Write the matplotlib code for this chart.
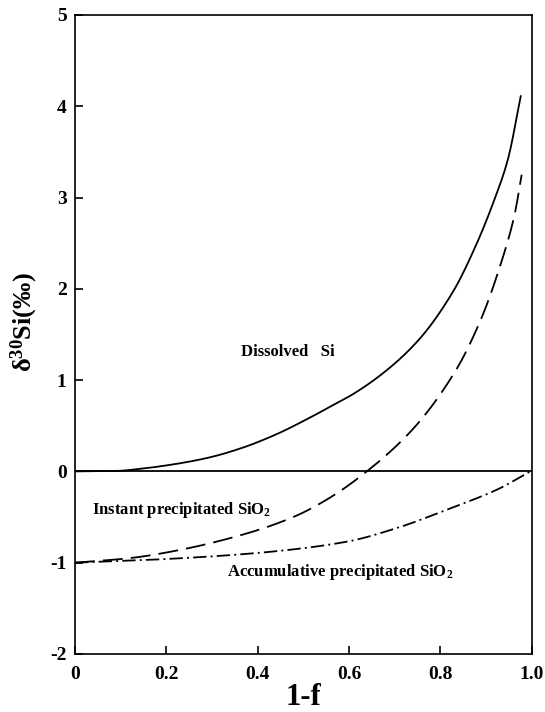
import numpy as np
import matplotlib
matplotlib.use('Agg')
import matplotlib.pyplot as plt

# Шрифт: жирный Times-подобный
plt.rcParams['font.family'] = ['Liberation Serif', 'DejaVu Serif']
plt.rcParams['font.weight'] = 'bold'
plt.rcParams['mathtext.fontset'] = 'custom'
plt.rcParams['mathtext.rm'] = 'Liberation Serif:bold'
plt.rcParams['mathtext.it'] = 'Liberation Serif:bold'
plt.rcParams['mathtext.bf'] = 'Liberation Serif:bold'
plt.rcParams['mathtext.default'] = 'rm'
plt.rcParams['axes.unicode_minus'] = False

# Данные
x_dissolved = [0.0, 0.09, 0.146, 0.219, 0.292, 0.365, 0.438, 0.511, 0.570, 0.610,
               0.683, 0.756, 0.829, 0.880, 0.920, 0.948, 0.976]
y_dissolved = [0.0, 0.005, 0.03, 0.08, 0.15, 0.256, 0.40, 0.58, 0.74, 0.85,
               1.11, 1.46, 1.98, 2.50, 3.00, 3.42, 4.11]

x_instant = [0.0, 0.120, 0.230, 0.376, 0.478, 0.551, 0.639, 0.741, 0.833, 0.890,
             0.934, 0.962, 0.978]
y_instant = [-1.0, -0.95, -0.86, -0.68, -0.50, -0.31, 0.0, 0.47, 1.10, 1.68,
             2.30, 2.80, 3.25]

x_accum = [0.0, 0.157, 0.303, 0.449, 0.595, 0.705, 0.814, 0.924, 0.997]
y_accum = [-1.0, -0.97, -0.93, -0.87, -0.77, -0.62, -0.42, -0.20, 0.0]

x_ticks = [0, 0.2, 0.4, 0.6, 0.8, 1.0]
x_ticklabels = ['0', '0.2', '0.4', '0.6', '0.8', '1.0']
y_ticks = [-2, -1, 0, 1, 2, 3, 4, 5]


def smooth(xs, ys):
    # гладкая кривая через считанные точки (монотонная кубическая интерполяция)
    xs = np.asarray(xs, float)
    ys = np.asarray(ys, float)
    xf = np.linspace(xs[0], xs[-1], 400)
    h = np.diff(xs)
    d = np.diff(ys) / h
    m = np.zeros_like(ys)
    m[0], m[-1] = d[0], d[-1]
    for i in range(1, len(xs) - 1):
        if d[i - 1] * d[i] > 0:
            m[i] = 2 / (1 / d[i - 1] + 1 / d[i])
    idx = np.clip(np.searchsorted(xs, xf) - 1, 0, len(xs) - 2)
    t = (xf - xs[idx]) / h[idx]
    h00 = 2 * t**3 - 3 * t**2 + 1
    h10 = t**3 - 2 * t**2 + t
    h01 = -2 * t**3 + 3 * t**2
    h11 = t**3 - t**2
    yf = h00 * ys[idx] + h10 * h[idx] * m[idx] + h01 * ys[idx + 1] + h11 * h[idx] * m[idx + 1]
    return xf, yf


fig = plt.figure(figsize=[5.45, 7.12], dpi=100)
ax = fig.add_axes([0.1376, 0.0815, 0.838, 0.8975])

lw = 1.3
ax.plot(*smooth(x_dissolved, y_dissolved), color='black', linewidth=lw)
ax.plot(*smooth(x_instant, y_instant), color='black', linewidth=lw, dashes=(11, 4.5))
ax.plot(*smooth(x_accum, y_accum), color='black', linewidth=lw, dashes=(7.4, 2.3, 1.1, 2.3))
ax.axhline(0, color='black', linewidth=lw)

ax.text(0.364, 1.31, 'Dissolved   Si', fontsize=12, fontweight='bold', va='center')
ax.text(0.037, -0.42, 'Instant precipitated SiO$_2$', fontsize=12, fontweight='bold', va='center')
ax.text(0.332, -1.10, 'Accumulative precipitated SiO$_2$', fontsize=12, fontweight='bold', va='center')

ax.set_xlim([0, 1.0])
ax.set_ylim([-2, 5])
ax.set_xticks(x_ticks)
ax.set_xticklabels(x_ticklabels)
ax.set_yticks(y_ticks)
ax.tick_params(direction='in', length=6, width=1.2, labelsize=14)
ax.tick_params(axis='x', pad=9)
ax.tick_params(axis='y', pad=6)
for s in ax.spines.values():
    s.set_linewidth(1.2)

ax.set_xlabel('1-f', fontsize=22, fontweight='bold', labelpad=0)
ax.set_ylabel('δ$^{30}$Si(‰)', fontsize=19, fontweight='bold')
ax.yaxis.set_label_coords(-0.077, 0.52)

plt.savefig('out.png', dpi=100)
